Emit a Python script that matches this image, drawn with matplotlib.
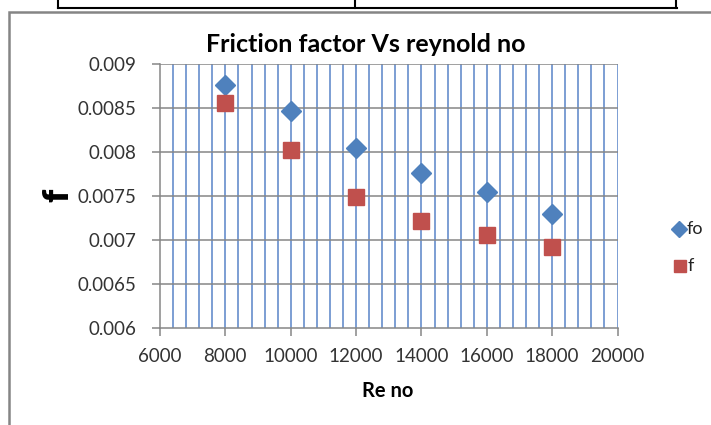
import matplotlib
matplotlib.use("Agg")
import matplotlib.pyplot as plt
from matplotlib.lines import Line2D
from matplotlib.patches import Rectangle
import numpy as np

re_no = [8000, 10000, 12000, 14000, 16000, 18000]
fo = [0.00877, 0.00847, 0.00805, 0.00776, 0.00755, 0.00730]
f = [0.00856, 0.00803, 0.00749, 0.00722, 0.00706, 0.00692]
x_ticks = [6000, 8000, 10000, 12000, 14000, 16000, 18000, 20000]
y_ticks = [0.006, 0.0065, 0.007, 0.0075, 0.008, 0.0085, 0.009]
y_labels = ["0.006", "0.0065", "0.007", "0.0075", "0.008", "0.0085", "0.009"]

W, H = 711, 425
fig = plt.figure(figsize=(W / 100, H / 100), dpi=100)
fig.patch.set_facecolor("white")

# outer chart frame and top table lines
fig.add_artist(Rectangle((8.5 / W, -0.05), 1.0, (H - 12) / H + 0.05, transform=fig.transFigure,
                         fill=False, edgecolor="#858585", lw=1.8))
fig.add_artist(Line2D([58 / W, 677 / W], [1 - 7.5 / H, 1 - 7.5 / H], transform=fig.transFigure,
                      color="black", lw=1.5))
for xv in [58, 355, 676]:
    fig.add_artist(Line2D([xv / W, xv / W], [1 - 7.5 / H, 1.0], transform=fig.transFigure,
                          color="black", lw=1.5))

ax = fig.add_axes([160 / W, 1 - 328.3 / H, (617.5 - 160) / W, (328.3 - 64.3) / H])
ax.set_xlim(6000, 20000)
ax.set_ylim(0.006, 0.009)

# gridlines
for xv in np.arange(6400, 20001, 400):
    ax.axvline(xv, color="#7C9ED3", lw=1.4, zorder=0)
for yv in y_ticks[1:]:
    ax.axhline(yv, color="#868686", lw=1.1, zorder=1)

ax.plot(re_no, fo, linestyle="none", marker="D", markersize=10.5, color="#4F81BD", label="fo", zorder=3)
ax.plot(re_no, f, linestyle="none", marker="s", markersize=11, color="#C0504D", label="f", zorder=3)

for s in ["top", "right"]:
    ax.spines[s].set_visible(False)
for s in ["left", "bottom"]:
    ax.spines[s].set_color("#868686")
    ax.spines[s].set_linewidth(1.1)

font = "Lato"
tick_color = "#333333"
ax.set_xticks(x_ticks)
ax.set_xticklabels([str(v) for v in x_ticks], fontfamily=font, fontsize=13.5, color=tick_color)
ax.set_yticks(y_ticks)
ax.set_yticklabels(y_labels, fontfamily=font, fontsize=13.5, color=tick_color)
ax.tick_params(axis="both", direction="out", length=6, color="#868686", width=1.1)
ax.tick_params(axis="y", pad=11)
ax.tick_params(axis="x", pad=8)

fig.text(366 / W, 1 - 44 / H, "Friction factor Vs reynold no", ha="center", va="center",
         fontfamily=font, fontweight="bold", fontsize=18)
fig.text(388 / W, 1 - 391 / H, "Re no", ha="center", va="center",
         fontfamily=font, fontweight="bold", fontsize=14.5)
fig.text(58 / W, 1 - 195 / H, "f", ha="center", va="center", rotation=90,
         fontfamily=font, fontweight="heavy", fontsize=26)

# legend
lax = fig.add_axes([0, 0, 1, 1], facecolor="none")
lax.set_xlim(0, W)
lax.set_ylim(H, 0)
lax.axis("off")
lax.plot([679], [229], marker="D", markersize=8.5, color="#4F81BD", linestyle="none")
lax.text(687, 229, "fo", va="center", ha="left", fontfamily=font, fontsize=13, color="#222222")
lax.plot([680], [266], marker="s", markersize=8.5, color="#C0504D", linestyle="none")
lax.text(688, 266, "f", va="center", ha="left", fontfamily=font, fontsize=13, color="#222222")

fig.savefig("out.png", dpi=100)
